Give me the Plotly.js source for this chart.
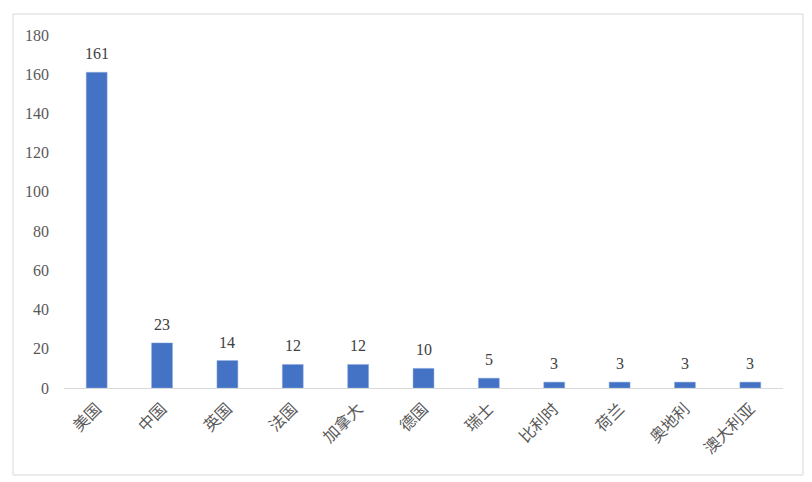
<!DOCTYPE html>
<html><head><meta charset="utf-8">
<script src="https://cdn.plot.ly/plotly-3.0.1.min.js"></script>
<style>html,body{margin:0;padding:0;background:#fff;}#chart{width:812px;height:482px;}</style>
</head><body><div id="chart"></div>
<script>
const categories = ["美国","中国","英国","法国","加拿大","德国","瑞士","比利时","荷兰","奥地利","澳大利亚"];
const values = [161,23,14,12,12,10,5,3,3,3,3];
const yTicks = [0,20,40,60,80,100,120,140,160,180];

const serif = "'Liberation Serif','DejaVu Serif',serif";
const trace = {
  type: "bar", x: categories, y: values,
  marker: {color: "#4472C4", line: {color: "#8FAADC", width: 0.5}},
  hoverinfo: "skip"
};
const labels = categories.map((c, i) => ({
  x: c, y: values[i], xref: "x", yref: "y", text: String(values[i]),
  showarrow: false, yanchor: "bottom", yshift: 8,
  font: {family: serif, size: 16, color: "#404040"}
}));
const layout = {
  width: 812, height: 482,
  margin: {l: 64, r: 29, t: 35, b: 94},
  paper_bgcolor: "#fff", plot_bgcolor: "#fff",
  bargap: 0.68, showlegend: false,
  xaxis: {showline: true, linecolor: "#d9d9d9", linewidth: 1, showgrid: false, zeroline: false,
          tickangle: -45, ticks: "", ticklabelstandoff: 4,
          tickfont: {family: "'Noto Sans CJK SC',sans-serif", size: 16, color: "#595959"}},
  yaxis: {range: [0, 180], tickvals: yTicks, showgrid: false, zeroline: false, showline: false, ticks: "",
          ticklabelstandoff: 14,
          tickfont: {family: serif, size: 16, color: "#595959"}},
  annotations: labels,
  shapes: [{type: "rect", xref: "paper", yref: "paper", x0: -0.0709, x1: 1.0278, y0: -0.2465, y1: 1.0595,
            line: {color: "#d9d9d9", width: 1}, fillcolor: "rgba(0,0,0,0)", layer: "below"}]
};
Plotly.newPlot("chart", [trace], layout, {displayModeBar: false, staticPlot: true});
</script></body></html>
